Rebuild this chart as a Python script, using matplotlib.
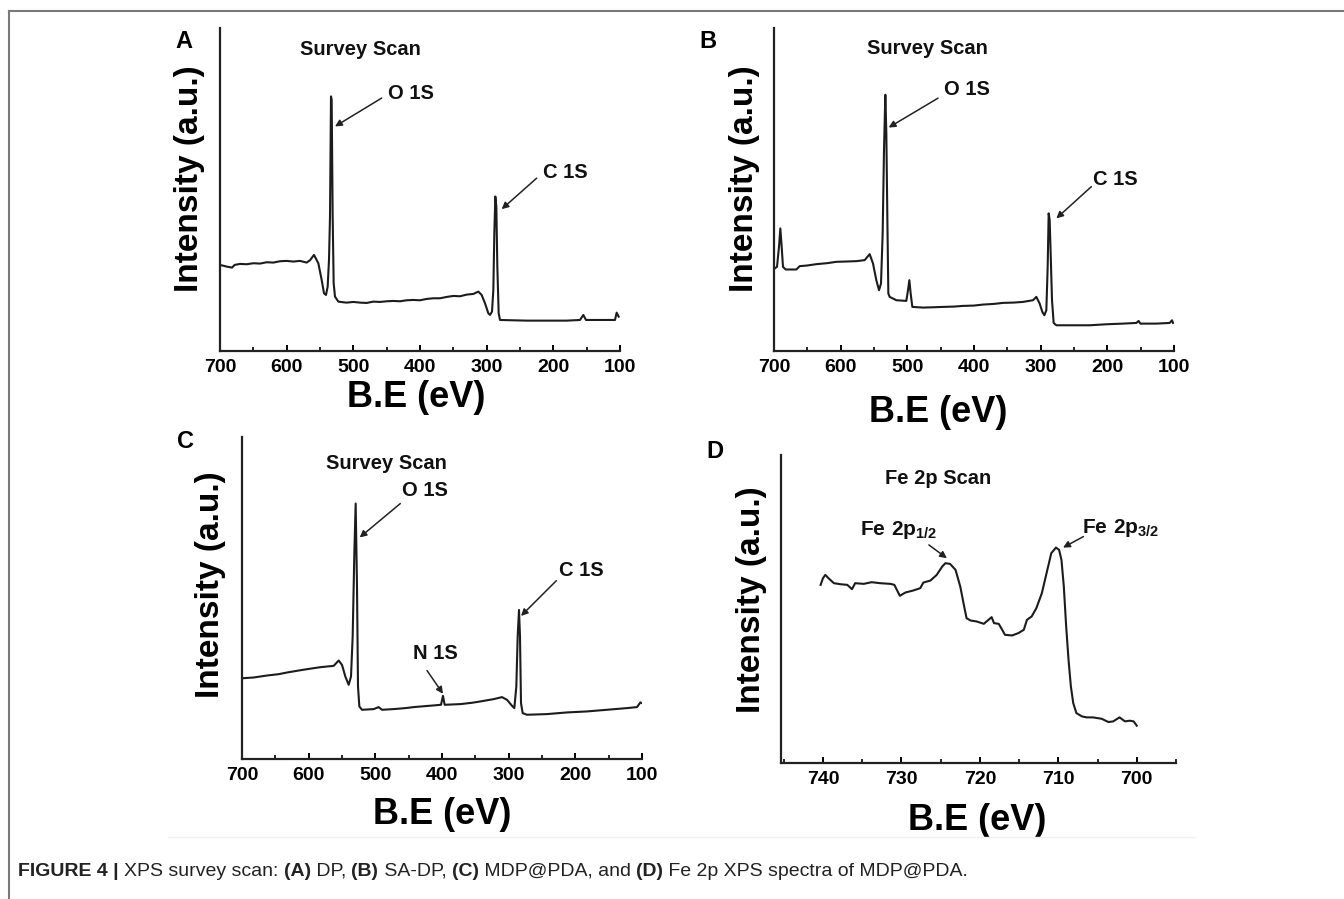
import matplotlib
matplotlib.use('Agg')
import matplotlib.pyplot as plt
from matplotlib.lines import Line2D
from matplotlib.ticker import MultipleLocator

plt.rcParams['font.family'] = ['Liberation Sans', 'DejaVu Sans']
plt.rcParams['mathtext.fontset'] = 'custom'
plt.rcParams['mathtext.rm'] = 'Liberation Sans'
plt.rcParams['mathtext.bf'] = 'Liberation Sans:bold'

# ── Data ──────────────────────────────────────────────────────────────────────
be_a = [700, 690, 682, 678, 670, 660, 650, 640, 630, 620, 610, 600, 590, 580, 570,
        565, 559, 552.5, 547.5, 544, 541, 538.5, 536.5, 535, 533.5, 532.5, 531,
        529.5, 527.5, 522.5, 515, 510, 500, 490, 480, 470, 460, 450, 440, 430, 420,
        410, 400, 390, 380, 370, 360, 350, 340, 330, 320, 312.5, 307.5, 302.5,
        297.5, 295, 292, 290, 288.5, 287, 285.5, 284, 282, 280, 240, 180, 160, 155,
        151, 107.5, 105, 102]
int_a = [258, 253, 250, 258, 261, 260, 263, 262, 266, 265, 269, 270, 268, 270, 265,
         272, 288, 263, 213, 173, 168, 193, 273, 403, 763, 753, 403,
         203, 163, 148, 146, 145, 147, 145, 144, 148, 147, 149, 150, 149, 152,
         153, 152, 156, 158, 158, 162, 165, 164, 169, 171, 178, 168, 143,
         113, 108, 118, 183, 353, 463, 433, 253, 113, 93, 91, 91, 93, 108,
         93, 93, 115, 103]

be_b = [699, 695.5, 692.5, 690.5, 688.5, 686.5, 682.5, 666.5, 661.5, 650, 636.5, 620,
        606.5, 590, 576.5, 564, 556.5, 551.5, 546.5, 542.5, 539.5, 537, 535, 533,
        531.5, 530, 528.5, 526.5, 516.5, 501.5, 499, 497, 495, 492.5, 476.5, 460,
        446.5, 430, 416.5, 400, 386.5, 370, 356.5, 340, 326.5, 311.5, 306.5, 301.5,
        297.5, 294.5, 291.5, 289.5, 288, 286.5, 285, 283, 280.5, 276.5, 226.5,
        201.5, 176.5, 156.5, 153, 150.5, 126.5, 106.5, 103, 101.5]
int_b = [247, 252, 312, 367, 312, 252, 244, 244, 254, 256, 260, 263,
         267, 268, 269, 272, 290, 262, 212, 182, 202, 352, 602, 767,
         652, 402, 172, 162, 152, 150, 182, 212, 172, 132, 130, 131,
         132, 133, 135, 136, 139, 141, 144, 145, 147, 152, 162, 142,
         117, 107, 122, 252, 412, 392, 292, 152, 84, 77, 77,
         80, 82, 84, 90, 82, 82, 84, 92, 84]

be_c = [697.5, 682.5, 662.5, 645, 632.5, 615, 602.5, 582.5, 562.5, 555, 550, 545,
        540, 536.5, 534, 531.5, 529.5, 527.5, 526, 524, 520, 502.5, 495, 490,
        472.5, 455, 442.5, 425, 412.5, 401.5, 398.5, 396, 372.5, 355, 342.5,
        322.5, 310, 302.5, 295, 291.5, 288.5, 286.5, 284.5, 283, 281.5, 279,
        272.5, 242.5, 212.5, 182.5, 152.5, 122.5, 107.5, 102.5, 100]
int_c = [243, 245, 251, 255, 260, 266, 270, 276, 280, 296, 283, 248,
         223, 248, 368, 618, 768, 518, 218, 158, 148, 150, 156, 148,
         150, 153, 156, 159, 161, 163, 190, 163, 165, 169, 173,
         180, 186, 178, 160, 153, 218, 368, 448, 368, 168, 138,
         133, 135, 140, 143, 148, 153, 156, 170, 168]

be_d = [740.3, 740, 739.7, 739.3, 738.6, 737.8, 736.9, 736.3, 735.9, 734.8, 733.8,
        732.7, 731.4, 730.9, 730.2, 729.5, 728.5, 727.6, 727.2, 726.3, 725.5,
        724.8, 724.4, 723.8, 723.1, 722.5, 722, 721.7, 721.2, 720.4, 719.5,
        718.9, 718.5, 718.2, 717.6, 717.2, 716.8, 715.9, 715.1, 714.4, 714,
        713.4, 712.8, 712.1, 711.5, 710.9, 710.3, 709.9, 709.6, 709.3, 709,
        708.7, 708.4, 708.1, 707.7, 707, 706.4, 705.6, 704.5, 703.6, 703,
        702.2, 701.5, 700.9, 700.4, 700]
int_d = [535, 555, 565, 555, 540, 537, 535, 522, 540, 538, 543,
         540, 538, 535, 502, 512, 518, 525, 542, 548, 565,
         590, 600, 598, 580, 530, 470, 435, 428, 425, 418,
         430, 438, 420, 418, 402, 385, 383, 390, 400, 430,
         440, 465, 510, 570, 630, 647, 640, 610, 530, 410,
         310, 230, 180, 150, 140, 137, 137, 133, 123, 125,
         137, 125, 127, 125, 112]

survey_ticks = [700, 600, 500, 400, 300, 200, 100]
fe_ticks = [740, 730, 720, 710, 700]

LINE = '#1c1c1c'
W, H = 1344, 899

fig = plt.figure(figsize=(13.44, 8.99), dpi=100)
fig.patch.set_facecolor('white')


def px_axes(l, t, r, b):
    return fig.add_axes([l / W, 1 - b / H, (r - l) / W, (b - t) / H])


def style(ax, xlim, ylim, ticks, minor, xl_pos, yl_pos):
    ax.set_xlim(*xlim)
    ax.set_ylim(*ylim)
    for s in ('top', 'right'):
        ax.spines[s].set_visible(False)
    for s in ('left', 'bottom'):
        ax.spines[s].set_linewidth(1.6)
        ax.spines[s].set_color('#222')
    ax.set_yticks([])
    ax.set_xticks(ticks)
    ax.xaxis.set_minor_locator(MultipleLocator(minor))
    ax.tick_params(axis='x', which='major', direction='in', length=4, width=1.4,
                   pad=6, labelsize=14)
    ax.tick_params(axis='x', which='minor', direction='in', length=3, width=1.2)
    for lab in ax.get_xticklabels():
        lab.set_fontweight('bold')
    ax.set_xlabel('B.E (eV)', fontsize=26, fontweight='bold')
    ax.set_ylabel('Intensity (a.u.)', fontsize=24, fontweight='bold')
    ax.xaxis.set_label_coords(*xl_pos)
    ax.yaxis.set_label_coords(*yl_pos)


def arrow(ax, start, end):
    ax.annotate('', xy=end, xytext=start,
                arrowprops=dict(arrowstyle='-|>', color='#222', lw=1.1,
                                mutation_scale=10, shrinkA=0, shrinkB=0))


def lab(ax, x, y, s, ha='left', size=14.5):
    ax.text(x, y, s, fontsize=size, fontweight='bold', ha=ha, va='center',
            color='#111')


# ── Panel A ───────────────────────────────────────────────────────────────────
ax = px_axes(220, 28, 620, 351)
ax.plot(be_a, int_a, color=LINE, lw=1.5)
style(ax, (700, 100), (0, 968), survey_ticks, 50, (0.49, -0.09), (-0.037, 0.535))
lab(ax, 490, 903, 'Survey Scan', ha='center')
lab(ax, 447.5, 773, 'O 1S')
arrow(ax, (457.5, 758), (527.5, 673))
lab(ax, 216, 535, 'C 1S')
arrow(ax, (225, 518), (277.5, 425))

# ── Panel B ───────────────────────────────────────────────────────────────────
ax = px_axes(774, 28, 1174, 351)
ax.plot(be_b, int_b, color=LINE, lw=1.5)
style(ax, (700, 100), (0, 967), survey_ticks, 50, (0.41, -0.136), (-0.036, 0.535))
lab(ax, 470.5, 907, 'Survey Scan', ha='center')
lab(ax, 445.5, 784, 'O 1S')
arrow(ax, (454, 757), (528, 669))
lab(ax, 221.5, 512, 'C 1S')
arrow(ax, (224, 492), (276.5, 397))

# ── Panel C ───────────────────────────────────────────────────────────────────
ax = px_axes(242, 437, 642, 759)
ax.plot(be_c, int_c, color=LINE, lw=1.5)
style(ax, (700, 100), (0, 968), survey_ticks, 50, (0.50, -0.118), (-0.04, 0.54))
lab(ax, 483, 888, 'Survey Scan', ha='center')
lab(ax, 460, 806, 'O 1S')
arrow(ax, (462.5, 768), (523.5, 666))
lab(ax, 225, 566, 'C 1S')
arrow(ax, (228.5, 536), (281.5, 430))
lab(ax, 443.5, 316, 'N 1S')
arrow(ax, (422.5, 266), (398.5, 196))

# ── Panel D ───────────────────────────────────────────────────────────────────
ax = px_axes(781, 455, 1176, 763)
ax.plot(be_d, int_d, color=LINE, lw=1.5)
style(ax, (745.35, 695.0), (0, 925), fe_ticks, 5, (0.496, -0.13), (-0.035, 0.53))
lab(ax, 725.3, 855, 'Fe 2p Scan', ha='center')
lab(ax, 735.3, 700, r'$\mathbf{Fe\ 2p_{1/2}}$', size=15)
arrow(ax, (726.5, 655), (724.2, 615))
lab(ax, 707.0, 705, r'$\mathbf{Fe\ 2p_{3/2}}$', size=15)
arrow(ax, (706.8, 680), (709.4, 647))

# ── Panel letters ─────────────────────────────────────────────────────────────
for s, x, y in [('A', 184, 41), ('B', 708, 42), ('C', 185, 442), ('D', 715, 452)]:
    fig.text(x / W, 1 - y / H, s, fontsize=17, fontweight='bold',
             ha='center', va='center')

# ── Frame lines ───────────────────────────────────────────────────────────────
fig.add_artist(Line2D([9 / W, 1], [1 - 10.5 / H, 1 - 10.5 / H], color='#7a7a7a', lw=1.5))
fig.add_artist(Line2D([9 / W, 9 / W], [0, 1 - 10.5 / H], color='#7a7a7a', lw=1.5))
fig.add_artist(Line2D([168 / W, 1195 / W], [1 - 837 / H, 1 - 837 / H], color='#f0f0f0', lw=1))

# ── Caption ───────────────────────────────────────────────────────────────────
caption = [('FIGURE 4 | ', 'bold'), ('XPS survey scan: ', 'normal'), ('(A)', 'bold'),
           (' DP, ', 'normal'), ('(B)', 'bold'), (' SA-DP, ', 'normal'), ('(C)', 'bold'),
           (' MDP@PDA, and ', 'normal'), ('(D)', 'bold'),
           (' Fe 2p XPS spectra of MDP@PDA.', 'normal')]
renderer = fig.canvas.get_renderer()
xpos = 18
for s, wt in caption:
    t = fig.text(xpos / W, 1 - 871 / H, s, fontsize=14, fontweight=wt,
                 ha='left', va='center', color='#222')
    xpos += t.get_window_extent(renderer).width

fig.savefig('out.png', dpi=100, facecolor='white')
